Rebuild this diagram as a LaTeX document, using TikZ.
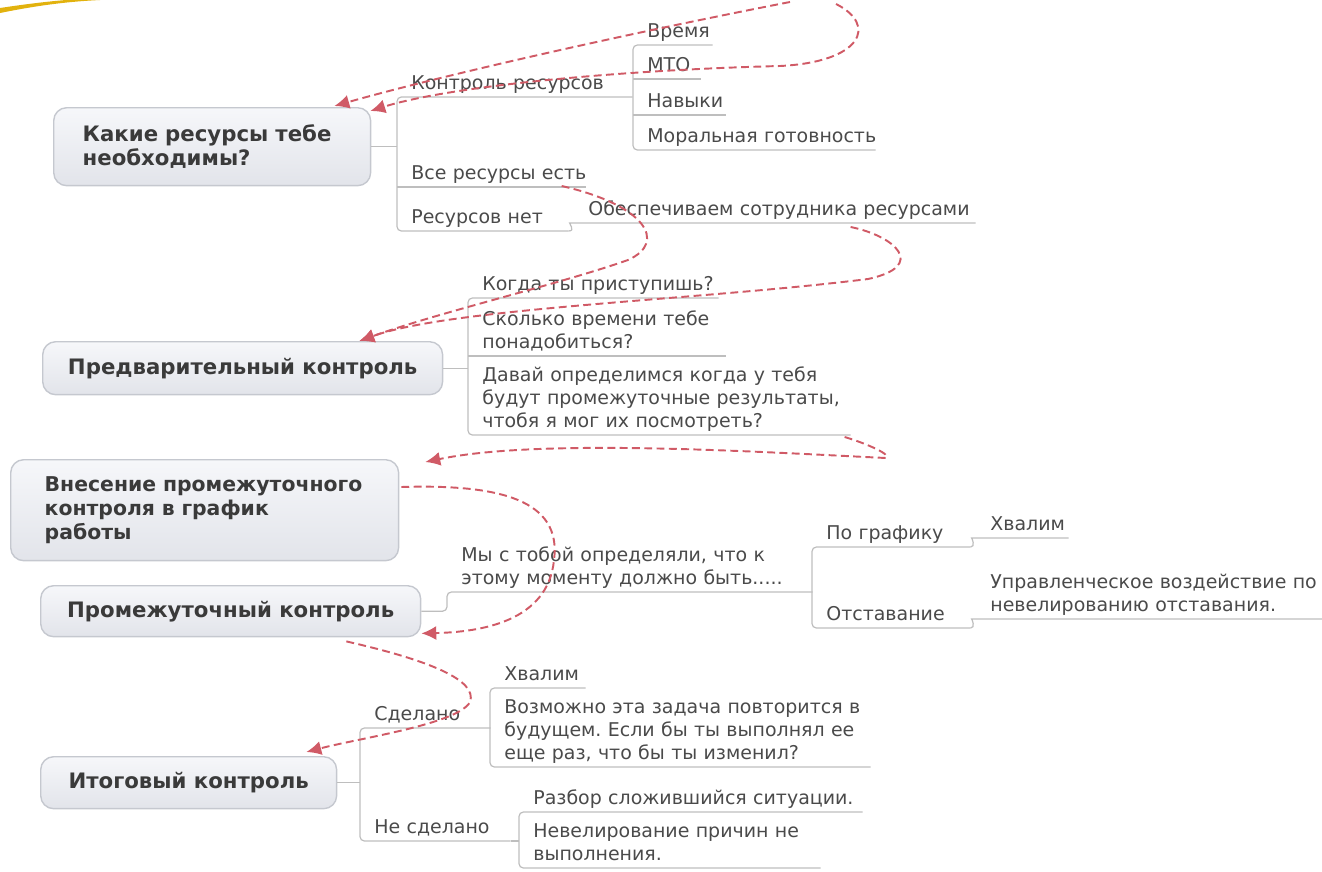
\documentclass[tikz,border=0pt]{standalone}
\usepackage{fontspec}
\usepackage{tikz}
\usetikzlibrary{arrows.meta}
\usetikzlibrary{positioning}
\usetikzlibrary{calc}
\setmainfont{DejaVu Sans}
\frenchspacing
\definecolor{boxtop}{HTML}{F6F7FA}
\definecolor{boxbottom}{HTML}{E2E4EA}
\definecolor{boxline}{HTML}{C5C8CF}
\definecolor{topictext}{HTML}{3A3A3A}
\definecolor{leaftext}{HTML}{4A4A4A}
\definecolor{branchgray}{HTML}{BEBEBE}
\definecolor{relred}{HTML}{D05A66}
\definecolor{swoosh}{HTML}{E2B20E}
\def\unitA{0.02cm}
\def\padA{0.28cm}

\begin{document}
\begin{tikzpicture}[x=\unitA, y=-\unitA,
        topic/.style={draw=boxline, line width=0.8pt, rounded corners=0.26cm,
            top color=boxtop, bottom color=boxbottom, text=topictext,
            font=\bfseries\fontsize{12.1}{13.8}\selectfont,
            anchor=north west, inner sep=0pt},
        leaf/.style={text=leaftext, font=\fontsize{10.8}{13.1}\selectfont,
            align=left, anchor=south west, inner sep=0pt,
            execute at begin node={\leftskip=\padA\rightskip=-1.5cm plus 1fil\relax},
            execute at end node={\strut}},
        branch/.style={draw=branchgray, line width=0.7pt, rounded corners=2.5pt},
        rel/.style={relred, line width=1.1pt, dash pattern=on 4.5pt off 2.5pt,
            ->, >={Latex[length=8.5pt, width=8pt]}}]
        \useasboundingbox (0,0) rectangle (1322,872);

        % corner of the slide
        \fill[swoosh] (0,13) .. controls (30,7) and (60,2) .. (100,0) -- (66,0)
            .. controls (42,2) and (20,5) .. (0,8) -- cycle;

        % topics
        \node[topic, minimum width=6.34cm, minimum height=1.56cm, text width=5.18cm,
            align=left] (need) at (53,107) {Какие ресурсы тебе\\необходимы?};
        \node[topic, minimum width=8cm, minimum height=1.06cm] (pre) at (42,341)
            {Предварительный контроль};
        \node[topic, minimum width=7.76cm, minimum height=2.02cm, text width=6.4cm,
            align=left, font=\bfseries\fontsize{11.6}{13.8}\selectfont] (plan) at (10,459)
            {Внесение промежуточного\\контроля в график\\работы};
        \node[topic, minimum width=7.6cm, minimum height=1.02cm] (mid) at (40,585)
            {Промежуточный контроль};
        \node[topic, minimum width=5.92cm, minimum height=1.04cm] (fin) at (40,756)
            {Итоговый контроль};

        % resources
        \node[leaf, text width=4.7cm] (ctrl) at (397,97) {Контроль ресурсов};
        \node[leaf, text width=3.76cm] (allres) at (397,187) {Все ресурсы есть};
        \node[leaf, text width=3.42cm] (nores) at (397,231) {Ресурсов нет};
        \node[leaf, text width=1.58cm] (time) at (633,45) {Время};
        \node[leaf, text width=1.34cm] (mto) at (633,79) {МТО};
        \node[leaf, text width=1.84cm] (skill) at (633,115) {Навыки};
        \node[leaf, text width=4.84cm] (moral) at (633,150) {Моральная готовность};
        \node[leaf, text width=8.02cm] (supply) at (574,223) {Обеспечиваем сотрудника ресурсами};

        \draw[branch] (need.east) -- (need.east -| ctrl.south west);
        \draw[branch] (ctrl.south east) -- (ctrl.south west) -- (nores.south west) -- (nores.south east);
        \draw[branch] (allres.south west) -- (allres.south east);
        \draw[branch] (time.south east) -- (time.south west) -- (moral.south west) -- (moral.south east);
        \draw[branch] (mto.south west) -- (mto.south east);
        \draw[branch] (skill.south west) -- (skill.south east);
        \draw[branch] (nores.south east) .. controls +(7,0) and +(-5,0) .. (supply.south west)
            -- (supply.south east);

        % preliminary
        \node[leaf, text width=5cm] (when) at (468,298) {Когда ты приступишь?};
        \node[leaf, text width=5.14cm] (howlong) at (468,356) {Сколько времени тебе\\понадобиться?};
        \node[leaf, text width=7.64cm] (agree) at (468,435)
            {Давай определимся когда у тебя\\будут промежуточные результаты,\\чтобя я мог их посмотреть?};

        \draw[branch] (pre.east) -- (pre.east -| when.south west);
        \draw[branch] (when.south east) -- (when.south west) -- (agree.south west) -- (agree.south east);
        \draw[branch] (howlong.south west) -- (howlong.south east);

        % intermediate
        \node[leaf, text width=7.3cm] (recall) at (447,592)
            {Мы с тобой определяли, что к\\этому моменту должно быть.....};
        \node[leaf, text width=3.16cm] (ontime) at (812,547) {По графику};
        \node[leaf, text width=3.16cm] (behind) at (812,628) {Отставание};
        \node[leaf, text width=1.84cm] (praise) at (976,538) {Хвалим};
        \node[leaf, text width=6.92cm] (manage) at (976,619)
            {Управленческое воздействие по\\невелированию отставания.};

        \draw[branch] (mid.east) -| (recall.south west) -- (recall.south east);
        \draw[branch] (ontime.south east) -- (ontime.south west) -- (behind.south west) -- (behind.south east);
        \draw[branch] (ontime.south east) .. controls +(5,0) and +(-4,0) .. (praise.south west)
            -- (praise.south east);
        \draw[branch] (behind.south east) .. controls +(5,0) and +(-4,0) .. (manage.south west)
            -- (manage.south east);

        % final
        \node[leaf, text width=2.6cm] (done) at (360,728) {Сделано};
        \node[leaf, text width=3cm] (notdone) at (360,841) {Не сделано};
        \node[leaf, text width=1.9cm] (praiseB) at (490,688) {Хвалим};
        \node[leaf, text width=7.6cm] (repeat) at (490,767)
            {Возможно эта задача повторится в\\будущем. Если бы ты выполнял ее\\еще раз, что бы ты изменил?};
        \node[leaf, text width=6.86cm] (review) at (519,812) {Разбор сложившийся ситуации.};
        \node[leaf, text width=6.02cm] (fix) at (519,868) {Невелирование причин не\\выполнения.};

        \draw[branch] (fin.east) -- (fin.east -| done.south west);
        \draw[branch] (done.south east) -- (done.south west) -- (notdone.south west) -- (notdone.south east);
        \draw[branch] (praiseB.south east) -- (praiseB.south west) -- (repeat.south west) -- (repeat.south east);
        \draw[branch] (notdone.south east) -- (notdone.south east -| review.south west);
        \draw[branch] (review.south east) -- (review.south west) -- (fix.south west) -- (fix.south east);

        % relationships
        \coordinate (fromA) at (790,2);
        \coordinate (fromB) at (836,4);
        \draw[rel] (fromA) .. controls (620,35) and (440,76) .. ($(need.north east)+(-37,-1)$);
        \draw[rel] (fromB) .. controls (878,25) and (862,62) .. (780,66)
            .. controls (620,70) and (450,86) .. ($(need.north east)+(-1,4)$);
        \draw[rel] ($(allres.south east)+(-24,-1)$) .. controls (645,205) and (668,242) .. (628,260)
            .. controls (560,284) and (440,312) .. ($(pre.north east)+(-84,0)$);
        \draw[rel] ($(supply.south east)+(-125,4)$) .. controls (895,236) and (928,266) .. (868,279)
            .. controls (700,300) and (450,308) .. ($(pre.north east)+(-84,0)$);
        \draw[rel] ($(agree.south east)+(-6,2)$) .. controls (868,444) and (892,455) .. (886,458)
            .. controls (760,452) and (540,438) .. ($(plan.north east)+(26,3)$);
        \draw[rel] ($(plan.north east)+(2,28)$) .. controls (500,484) and (562,500) .. (554,560)
            .. controls (548,622) and (480,632) .. ($(mid.south east)+(0,-4)$);
        \draw[rel] ($(mid.south east)+(-75,4)$) .. controls (428,660) and (478,680) .. (470,702)
            .. controls (458,724) and (360,738) .. ($(fin.north east)+(-31,-4)$);
    \end{tikzpicture}
\end{document}
